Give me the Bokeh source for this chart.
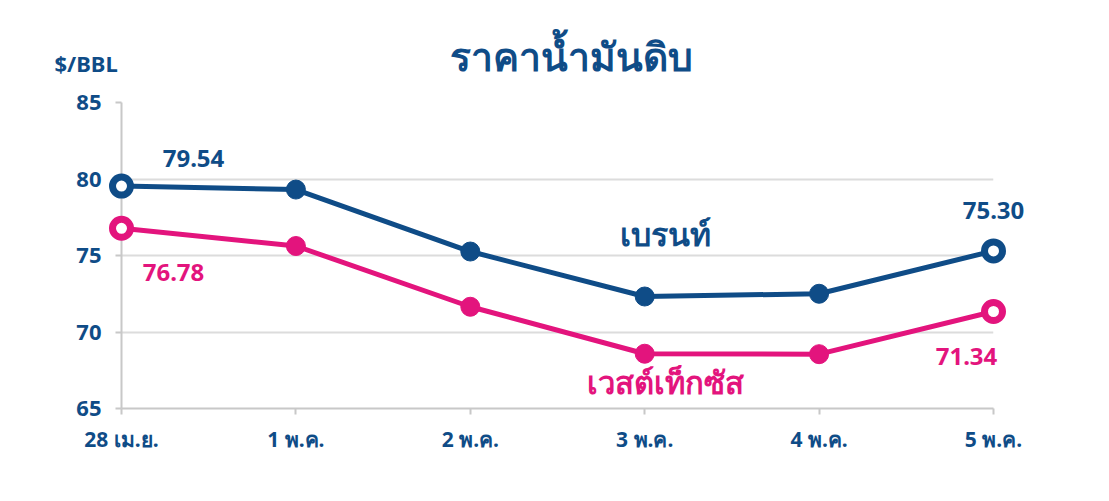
from bokeh.plotting import figure
from bokeh.models import Range1d, FixedTicker
from bokeh.core.properties import value
from bokeh.embed import file_html
from bokeh.resources import INLINE

# ---- data ----
dates = ["28 เม.ย.", "1 พ.ค.", "2 พ.ค.", "3 พ.ค.", "4 พ.ค.", "5 พ.ค."]
brent = [79.54, 79.31, 75.26, 72.32, 72.50, 75.30]
wti = [76.78, 75.62, 71.65, 68.58, 68.55, 71.34]
y_ticks = [65, 70, 75, 80, 85]
title_text = "ราคาน้ำมันดิบ"
unit_text = "$/BBL"
brent_name = "เบรนท์"
wti_name = "เวสต์เท็กซัส"

BLUE = "#0f4c87"
PINK = "#e3147d"
GRID = "#dcdcdc"
AXIS = "#c8c8c8"
FONT = "Noto Sans"

xs = list(range(len(dates)))
x_mid = (xs[0] + xs[-1]) / 2

p = figure(width=1090, height=480, output_backend="svg", toolbar_location=None,
           x_range=Range1d(0, len(dates) - 1), y_range=Range1d(y_ticks[0], y_ticks[-1]),
           min_border_left=121, min_border_right=97, min_border_top=102, min_border_bottom=72)
p.outline_line_color = None
p.background_fill_color = "white"
p.border_fill_color = "white"

# axes
p.xaxis.ticker = FixedTicker(ticks=xs)
p.xaxis.major_label_overrides = {i: d for i, d in enumerate(dates)}
p.yaxis.ticker = FixedTicker(ticks=y_ticks)
for ax in (p.xaxis[0], p.yaxis[0]):
    ax.axis_line_color = AXIS
    ax.axis_line_width = 2
    ax.major_tick_line_color = AXIS
    ax.major_tick_line_width = 2
    ax.major_tick_out = 6
    ax.major_tick_in = 0
    ax.minor_tick_line_color = None
    ax.major_label_text_color = BLUE
    ax.major_label_text_font = FONT
    ax.major_label_text_font_style = "bold"
p.yaxis.major_label_text_font_size = "22px"
p.xaxis.major_label_text_font_size = "21px"
p.yaxis.major_label_standoff = 14
p.xaxis.major_label_standoff = 10

p.xgrid.grid_line_color = None
p.ygrid.grid_line_color = GRID
p.ygrid.grid_line_width = 2

# lines
for vals, col in ((brent, BLUE), (wti, PINK)):
    p.line(xs, vals, line_color=col, line_width=5)
    mid = xs[1:-1]
    r1 = p.scatter(mid, vals[1:-1], size=19, fill_color=col, line_color=col, line_width=1)
    r2 = p.scatter([xs[0], xs[-1]], [vals[0], vals[-1]], size=18, fill_color="white",
                   line_color=col, line_width=7)
    r1.level = "overlay"
    r2.level = "overlay"

def lab(x, y, text, color, size, xo=0, yo=0, align="center"):
    r = p.text(x=[x], y=[y], text=[text], x_offset=xo, y_offset=-yo,
               text_color=color, text_font=value(FONT), text_font_style="bold",
               text_font_size=size, text_align=align, text_baseline="middle")
    r.level = "overlay"

lab(xs[0], brent[0], f"{brent[0]:.2f}", BLUE, "24px", xo=72, yo=28)
lab(xs[0], wti[0], f"{wti[0]:.2f}", PINK, "24px", xo=52, yo=-44)
lab(xs[-1], brent[-1], f"{brent[-1]:.2f}", BLUE, "24px", xo=0, yo=40)
lab(xs[-1], wti[-1], f"{wti[-1]:.2f}", PINK, "24px", xo=-27, yo=-45)
lab(3, 75.0, brent_name, BLUE, "32px", xo=21, yo=22)
lab(3, wti[3], wti_name, PINK, "31px", xo=21, yo=-28)

# title and unit, anchored above the top of the value axis
lab(x_mid, y_ticks[-1], title_text, BLUE, "39px", xo=14, yo=47)
lab(xs[0], y_ticks[-1], unit_text, BLUE, "22px", xo=-67, yo=40, align="left")

open("out.html", "w").write(file_html(p, INLINE))
